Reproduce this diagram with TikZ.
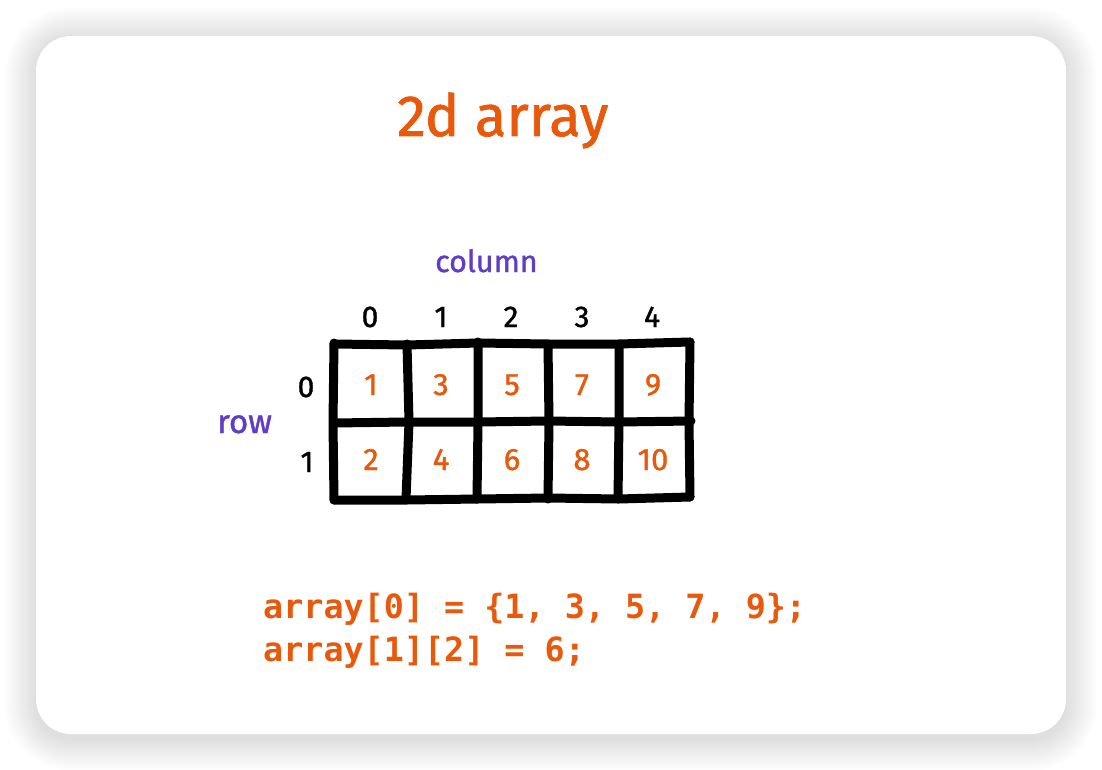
\documentclass[tikz,border=0pt]{standalone}
\usepackage{fontspec}
\newfontfamily\handfont{Fira Sans}[FakeBold=1.2]
\newfontfamily\codefont{DejaVu Sans Mono}
\definecolor{exorange}{HTML}{E8590C}
\definecolor{exviolet}{HTML}{5F3DC4}
\tikzset{
  card/.style={fill=white, rounded corners=35pt},
  gridline/.style={line width=9pt, line cap=round, line join=round, black},
  cellnum/.style={anchor=base, text=exorange, font=\handfont\fontsize{31}{36}\selectfont, inner sep=0pt},
  idx/.style={anchor=base, text=black, font=\handfont\fontsize{30}{36}\selectfont, inner sep=0pt},
  lbl/.style={anchor=base west, text=exviolet, font=\handfont\fontsize{30.5}{34}\selectfont, inner sep=0pt},
  rowlbl/.style={lbl, font=\handfont\fontsize{33}{36}\selectfont},
  title/.style={anchor=base west, text=exorange, font=\handfont\fontsize{58}{64}\selectfont, inner sep=0pt},
  code/.style={anchor=base west, text=exorange, font=\codefont\bfseries\fontsize{33.4}{40}\selectfont, inner sep=0pt},
}
\begin{document}
\begin{tikzpicture}[x=1pt,y=-1pt]
\useasboundingbox (0,0) rectangle (1102,770);
\fill[white] (0,0) rectangle (1102,770);
% soft shadow
\foreach \g in {1,...,32}{
  \fill[black, opacity=0.0045, rounded corners={35pt+\g pt}]
    (36-\g,36-\g+3) rectangle (1066+\g,734+\g+5);
}
\path[card] (36,36) rectangle (1066,734);

% title
\node[title] (title) at (397,136) {2d array};
\node[lbl] (column) at (435,272) {column};
\node[rowlbl] (row) at (217,433) {row};

% column indices
\node[idx] (ci0) at (370,327) {0};
\node[idx] (ci1) at (441,327) {1};
\node[idx] (ci2) at (511,327) {2};
\node[idx] (ci3) at (582,327) {3};
\node[idx] (ci4) at (652,327) {4};
% row indices
\node[idx] (ri0) at (306,397) {0};
\node[idx] (ri1) at (307,472) {1};

% grid
\draw[gridline] (334,344) -- (407,345) -- (478,343) -- (548,344) -- (619,344) -- (690,342);
\draw[gridline] (334,423) -- (407,422) -- (478,422) -- (548,421) -- (619,422) -- (691,421);
\draw[gridline] (334,500) -- (407,500) -- (478,499) -- (548,498) -- (619,499) -- (690,497);
\draw[gridline] (334,343) -- (333,423) -- (334,500);
\draw[gridline] (407,344) -- (409,422) -- (406,499);
\draw[gridline] (478,342) -- (478,422) -- (477,499);
\draw[gridline] (548,344) -- (549,422) -- (548,499);
\draw[gridline] (619,344) -- (619,422) -- (618,499);
\draw[gridline] (690,342) -- (689,422) -- (690,497);

% cell values
\node[cellnum] (c00) at (371,395) {1};
\node[cellnum] (c01) at (441,395) {3};
\node[cellnum] (c02) at (512,395) {5};
\node[cellnum] (c03) at (582,395) {7};
\node[cellnum] (c04) at (653,395) {9};
\node[cellnum] (c10) at (371,470) {2};
\node[cellnum] (c11) at (441,470) {4};
\node[cellnum] (c12) at (512,470) {6};
\node[cellnum] (c13) at (582,470) {8};
\node[cellnum] (c14) at (653,470) {10};

% code
\node[code] (code1) at (263,618) {array[0] = \{1, 3, 5, 7, 9\};};
\node[code] (code2) at (263,661) {array[1][2] = 6;};
\end{tikzpicture}
\end{document}
